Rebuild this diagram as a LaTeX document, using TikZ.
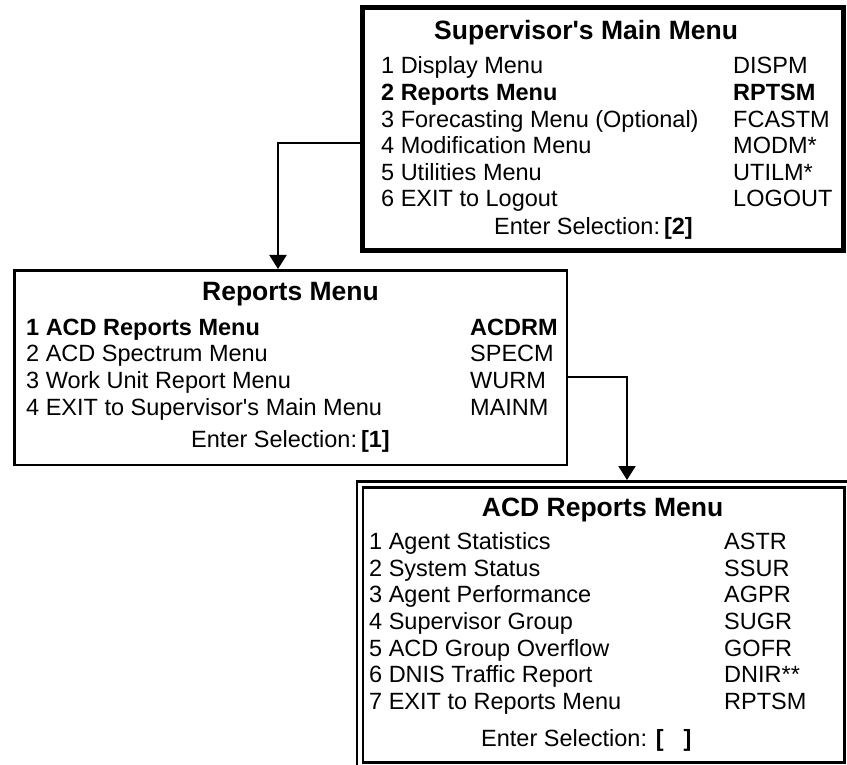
\documentclass[tikz,border=0pt]{standalone}
\usepackage{fontspec}
\setmainfont{Liberation Sans}
\usetikzlibrary{arrows.meta,positioning}
\newcommand{\bodysize}{\fontsize{23.5}{26.7}\selectfont}
\newcommand{\headsize}{\fontsize{26.5}{30}\selectfont\bfseries}
\newcommand{\apos}{\textquotesingle}

\begin{document}
\begin{tikzpicture}[x=1pt,y=-1pt,
  txt/.style={inner sep=0pt,anchor=base west,font=\bodysize},
  hd/.style={inner sep=0pt,anchor=base west,font=\headsize},
  menubox/.style={draw,rectangle,inner sep=0pt}]
\useasboundingbox (0,0) rectangle (847,765);
\node[menubox,line width=5pt,minimum width=481pt,minimum height=243pt] (main) at (603,129) {};
\node[menubox,line width=2.5pt,minimum width=552.5pt,minimum height=194.5pt] (reports) at (290.5,367.5) {};
\node[menubox,line width=2.5pt,minimum width=481.5pt,minimum height=275pt] (acd) at (603.75,625) {};
\draw[line width=2.5pt] ([xshift=-5pt,yshift=-1.25pt]acd.south west) |- ([xshift=1.25pt,yshift=5pt]acd.north east);
\coordinate (acdtop) at ([yshift=6.25pt]acd.north);

\node[hd] (mainhd) at (434,39.3) {Supervisor\apos s Main Menu};
\node[txt] (m1) at (381,74) {1 Display Menu};
\node[txt] (m1c) at (733,74) {DISPM};
\node[txt] (m2) at (381,100.6) {\bfseries 2 Reports Menu};
\node[txt] (m2c) at (733,100.6) {\bfseries RPTSM};
\node[txt] (m3) at (381,127.1) {3 Forecasting Menu (Optional)};
\node[txt] (m3c) at (733,127.1) {FCASTM};
\node[txt] (m4) at (381,153.7) {4 Modification Menu};
\node[txt] (m4c) at (733,153.7) {MODM*};
\node[txt] (m5) at (381,180.2) {5 Utilities Menu};
\node[txt] (m5c) at (733,180.2) {UTILM*};
\node[txt] (m6) at (381,206.8) {6 EXIT to Logout};
\node[txt] (m6c) at (733,206.8) {LOGOUT};
\node[txt] (msel) at (494,235) {Enter Selection:\,\textbf{[2]}};

\node[hd,anchor=base] (reportshd) at (290.5,300) {Reports Menu};
\node[txt] (r1) at (26,335) {\bfseries 1 ACD Reports Menu};
\node[txt] (r1c) at (470,335) {\bfseries ACDRM};
\node[txt] (r2) at (26,361.7) {2 ACD Spectrum Menu};
\node[txt] (r2c) at (470,361.7) {SPECM};
\node[txt] (r3) at (26,388.3) {3 Work Unit Report Menu};
\node[txt] (r3c) at (470,388.3) {WURM};
\node[txt] (r4) at (26,415) {4 EXIT to Supervisor\apos s Main Menu};
\node[txt] (r4c) at (470,415) {MAINM};
\node[txt,anchor=base] (rsel) at (290.5,447) {Enter Selection:\,\textbf{[1]}};

\node[hd] (acdhd) at (481.7,516.7) {ACD Reports Menu};
\node[txt] (a1) at (369,549.3) {1 Agent Statistics};
\node[txt] (a1c) at (724,549.3) {ASTR};
\node[txt] (a2) at (369,576) {2 System Status};
\node[txt] (a2c) at (724,576) {SSUR};
\node[txt] (a3) at (369,602.7) {3 Agent Performance};
\node[txt] (a3c) at (724,602.7) {AGPR};
\node[txt] (a4) at (369,629.3) {4 Supervisor Group};
\node[txt] (a4c) at (724,629.3) {SUGR};
\node[txt] (a5) at (369,656) {5 ACD Group Overflow};
\node[txt] (a5c) at (724,656) {GOFR};
\node[txt] (a6) at (369,682.7) {6 DNIS Traffic Report};
\node[txt] (a6c) at (724,682.7) {DNIR**};
\node[txt] (a7) at (369,709.3) {7 EXIT to Reports Menu};
\node[txt] (a7c) at (724,709.3) {RPTSM};
\node[txt] (asel) at (481,746.7) {Enter Selection: \textbf{[\hspace{20pt}]}};

\coordinate (bend1) at (278,143);
\coordinate (bend2) at (627,377);
\path[draw,line width=2pt,-{Triangle[length=14pt,width=17pt]}]
(main.west |- bend1) -- (bend1) -- (bend1 |- reports.north);
\path[draw,line width=2pt,-{Triangle[length=14pt,width=17pt]}]
(reports.east |- bend2) -- (bend2) -- (bend2 |- acdtop);
\end{tikzpicture}
\end{document}
